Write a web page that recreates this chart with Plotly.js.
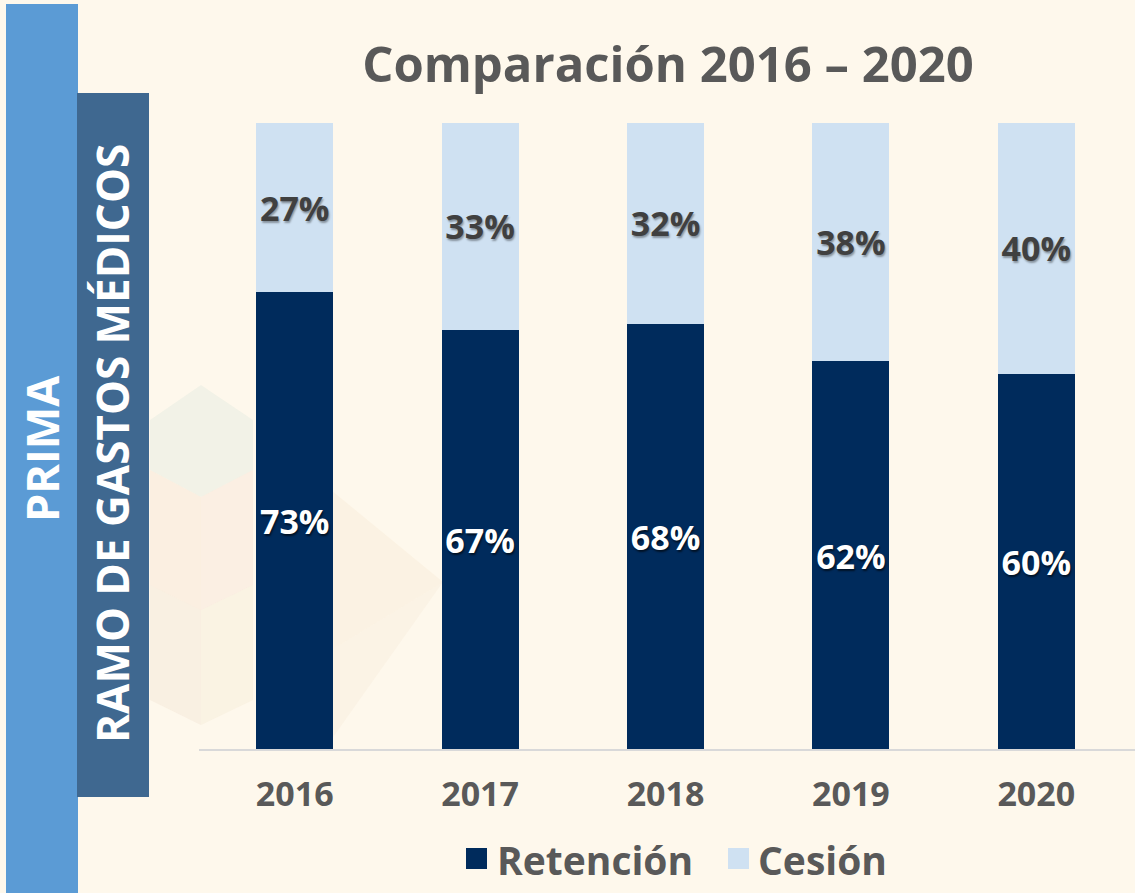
<!DOCTYPE html>
<html>
<head>
<meta charset="utf-8">
<script src="https://cdn.plot.ly/plotly-3.0.1.min.js"></script>
<style>
  html, body { margin: 0; padding: 0; background: #FEF8EC; }
  #chart { width: 1135px; height: 893px; }
</style>
</head>
<body>
<div id="chart"></div>
<script>
const years = ['2016', '2017', '2018', '2019', '2020'];
const retencion = [73, 67, 68, 62, 60];
const cesion = [27, 33, 32, 38, 40];
const seriesNames = ['Retención', 'Cesión'];
const seriesColors = ['#002B5C', '#CFE1F2'];
const titleText = 'Comparación 2016 – 2020';
const sideLabel1 = 'PRIMA';
const sideLabel2 = 'RAMO DE GASTOS MÉDICOS';

const W = 1135, H = 893;
const L = 202, R = 1129, T = 123, B = 750;
const px = x => (x - L) / (R - L);
const py = y => (B - y) / (B - T);

const FONT = '"Open Sans", "DejaVu Sans", sans-serif';
const GRAY = '#595959';

const traces = [
  {
    type: 'bar', name: seriesNames[0], x: years, y: retencion,
    marker: { color: seriesColors[0] },
    texttemplate: '%{y}%', textposition: 'inside', insidetextanchor: 'middle',
    constraintext: 'none',
    textfont: { family: FONT, size: 34, color: '#FFFFFF', weight: 700, shadow: '1px 2px 2px rgba(0,0,0,0.6)' },
    hoverinfo: 'skip', showlegend: false
  },
  {
    type: 'bar', name: seriesNames[1], x: years, y: cesion,
    marker: { color: seriesColors[1] },
    texttemplate: '%{y}%', textposition: 'inside', insidetextanchor: 'middle',
    constraintext: 'none',
    textfont: { family: FONT, size: 34, color: '#404040', weight: 700, shadow: '1px 2px 2px rgba(0,0,0,0.35)' },
    hoverinfo: 'skip', showlegend: false
  }
];

function poly(points, color, op) {
  const d = points.map((p, i) => (i ? 'L' : 'M') + px(p[0]).toFixed(4) + ',' + py(p[1]).toFixed(4)).join(' ') + ' Z';
  return { type: 'path', xref: 'paper', yref: 'paper', path: d, fillcolor: color, opacity: op, line: { width: 0 }, layer: 'below' };
}

const shapes = [
  // faint decorative cube pattern
  poly([[201,385],[253,420],[253,470],[201,497],[150,470],[150,420]], '#D8E4DC', 0.3),
  poly([[150,470],[201,497],[201,610],[150,585]], '#F5D9C8', 0.3),
  poly([[201,497],[253,470],[253,585],[201,610]], '#F3D2C8', 0.25),
  poly([[150,585],[201,610],[201,725],[150,700]], '#EAD9C4', 0.25),
  poly([[201,610],[253,585],[253,700],[201,725]], '#EFE3C8', 0.25),
  poly([[331,490],[443,582],[331,650]], '#F5E4CC', 0.3),
  poly([[331,650],[443,582],[331,740]], '#F1DEC6', 0.18),
  // baseline
  { type: 'line', xref: 'paper', yref: 'paper', x0: px(199), x1: px(1135), y0: 0, y1: 0, line: { color: '#D9D9D9', width: 2 }, layer: 'above' },
  // left bands
  { type: 'rect', xref: 'paper', yref: 'paper', x0: px(6), x1: px(78), y0: py(893), y1: py(4), fillcolor: '#5B9BD5', line: { width: 0 }, layer: 'above' },
  { type: 'rect', xref: 'paper', yref: 'paper', x0: px(77), x1: px(149), y0: py(797), y1: py(93), fillcolor: '#3F6890', line: { width: 0 }, layer: 'above' },
  // legend swatches
  { type: 'rect', xref: 'paper', yref: 'paper', x0: px(466), x1: px(487), y0: py(869), y1: py(848), fillcolor: seriesColors[0], line: { width: 0 }, layer: 'above' },
  { type: 'rect', xref: 'paper', yref: 'paper', x0: px(728), x1: px(749), y0: py(869), y1: py(848), fillcolor: seriesColors[1], line: { width: 0 }, layer: 'above' }
];

const annotations = [
  { xref: 'paper', yref: 'paper', x: px(41), y: py(449), text: sideLabel1, textangle: -90, showarrow: false,
    font: { family: FONT, size: 45, color: '#FFFFFF', weight: 700 }, xanchor: 'center', yanchor: 'middle' },
  { xref: 'paper', yref: 'paper', x: px(112), y: py(444), text: sideLabel2, textangle: -90, showarrow: false,
    font: { family: FONT, size: 44, color: '#FFFFFF', weight: 700 }, xanchor: 'center', yanchor: 'middle' },
  // legend labels
  { xref: 'paper', yref: 'paper', x: px(495), y: py(859), text: seriesNames[0], showarrow: false,
    font: { family: FONT, size: 39, color: GRAY, weight: 700 }, xanchor: 'left', yanchor: 'middle' },
  { xref: 'paper', yref: 'paper', x: px(756), y: py(859), text: seriesNames[1], showarrow: false,
    font: { family: FONT, size: 39, color: GRAY, weight: 700 }, xanchor: 'left', yanchor: 'middle' }
];

const layout = {
  width: W, height: H,
  paper_bgcolor: '#FEF8EC', plot_bgcolor: 'rgba(0,0,0,0)',
  margin: { l: L, r: W - R, t: T, b: H - B },
  barmode: 'stack', bargap: 0.585,
  title: { text: titleText, font: { family: FONT, size: 49, color: GRAY, weight: 700 },
    xref: 'paper', x: px(668), xanchor: 'center', yref: 'container', y: 1 - 65 / H, yanchor: 'middle' },
  xaxis: {
    type: 'category', showgrid: false, zeroline: false, showline: false,
    ticks: '', ticklabelstandoff: 21,
    tickfont: { family: FONT, size: 34, color: GRAY, weight: 700 }
  },
  yaxis: { range: [0, 100], visible: false, fixedrange: true },
  showlegend: false,
  shapes: shapes,
  annotations: annotations
};

Plotly.newPlot('chart', traces, layout, { displayModeBar: false, staticPlot: true });
</script>
</body>
</html>
